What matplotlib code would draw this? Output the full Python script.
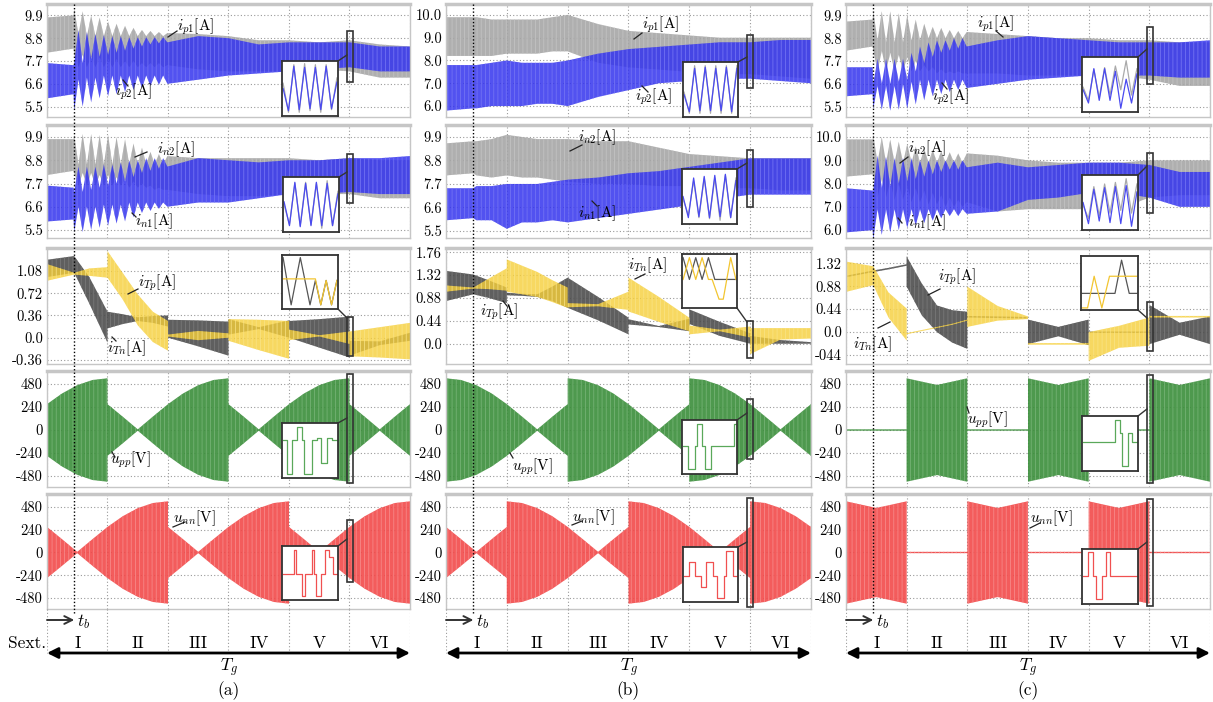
import numpy as np
import matplotlib
matplotlib.use('Agg')
import matplotlib.pyplot as plt
from matplotlib.lines import Line2D
from matplotlib.patches import Rectangle

plt.rcParams['font.family'] = ['cmr10', 'DejaVu Serif']
plt.rcParams['mathtext.fontset'] = 'cm'
plt.rcParams['axes.unicode_minus'] = False
plt.rcParams['axes.formatter.use_mathtext'] = True
plt.rcParams['hatch.linewidth'] = 0.6

W, H = 1213, 702

# ---------------- data (sextant units on x) ----------------
TB = 0.45
SEXT = ['I', 'II', 'III', 'IV', 'V', 'VI']

# arm currents, envelopes of the switching band
# (a) and (c): dense points after t_b to follow the transient swings
X_TR = [0, 0.44, 0.45, 0.52, 0.59, 0.66, 0.73, 0.80, 0.87, 0.94, 1.01, 1.08, 1.15, 1.22,
        1.29, 1.36, 1.43, 1.50, 1.57, 1.64, 1.71, 1.78, 1.85, 1.92, 1.99,
        2.5, 3, 3.5, 4, 4.5, 5, 5.5, 6]
A_IP1_HI = [9.8, 9.9, 10.2, 9.0, 10.1, 8.9, 9.9, 8.9, 9.8, 8.9, 9.6, 8.9, 9.5, 8.9, 9.4, 8.9,
            9.3, 8.9, 9.2, 8.9, 9.15, 8.9, 9.1, 8.9, 9.05, 9.0, 8.9, 8.7, 8.7, 8.6, 8.7, 8.5, 8.4]
A_IP1_LO = [8.1, 8.3, 8.0, 7.4, 8.0, 7.4, 7.9, 7.4, 7.9, 7.4, 7.8, 7.4, 7.8, 7.4, 7.7, 7.4,
            7.7, 7.4, 7.6, 7.4, 7.6, 7.4, 7.6, 7.4, 7.5, 7.3, 7.2, 7.2, 7.2, 7.3, 7.2, 6.9, 6.9]
A_IP2_HI = [7.6, 7.5, 7.6, 9.2, 7.6, 9.1, 7.8, 9.0, 7.9, 8.95, 8.0, 8.9, 8.1, 8.9, 8.2, 8.85,
            8.3, 8.85, 8.4, 8.85, 8.5, 8.85, 8.55, 8.85, 8.6, 8.9, 8.8, 8.5, 8.6, 8.6, 8.6, 8.4, 8.4]
A_IP2_LO = [5.9, 6.1, 5.3, 6.8, 5.5, 6.9, 5.7, 6.9, 5.9, 7.0, 6.0, 7.0, 6.1, 7.0, 6.2, 7.0,
            6.3, 7.0, 6.4, 7.0, 6.5, 7.0, 6.55, 7.0, 6.6, 6.8, 7.0, 7.1, 7.2, 7.3, 7.4, 7.2, 7.2]
A_IN2_HI = [9.8, 9.8, 10.0, 8.6, 10.05, 8.6, 10.05, 8.6, 10.0, 8.6, 10.0, 8.6, 9.9, 8.6, 9.8, 8.6,
            9.6, 8.6, 9.4, 8.6, 9.2, 8.6, 9.1, 8.6, 9.0, 8.9, 8.9, 8.9, 8.9, 8.8, 8.9, 8.8, 8.8]
A_IN2_LO = [8.1, 8.3, 8.2, 7.6, 8.2, 7.6, 8.2, 7.6, 8.1, 7.6, 8.1, 7.6, 8.0, 7.6, 7.9, 7.5,
            7.8, 7.5, 7.7, 7.5, 7.6, 7.4, 7.5, 7.4, 7.4, 7.2, 7.1, 7.1, 7.2, 7.2, 7.2, 7.0, 7.0]
A_IN1_HI = [7.6, 7.5, 7.3, 8.5, 7.3, 8.5, 7.4, 8.5, 7.5, 8.6, 7.6, 8.6, 7.7, 8.7, 7.8, 8.8,
            8.0, 8.8, 8.2, 8.9, 8.3, 8.9, 8.4, 8.9, 8.5, 8.9, 8.8, 8.7, 8.8, 8.8, 8.9, 8.9, 9.0]
A_IN1_LO = [5.9, 6.0, 5.4, 6.6, 5.4, 6.6, 5.5, 6.6, 5.6, 6.7, 5.7, 6.7, 5.8, 6.7, 5.9, 6.8,
            6.1, 6.8, 6.3, 6.8, 6.4, 6.8, 6.5, 6.8, 6.6, 6.8, 6.8, 7.0, 7.2, 7.2, 7.3, 7.2, 7.2]

C_IP1_HI = [9.6, 9.7, 10.1, 8.7, 10.1, 8.6, 10.1, 8.6, 10.0, 8.6, 9.9, 8.7, 9.7, 8.7, 9.5, 8.8,
            9.35, 8.8, 9.3, 8.8, 9.2, 8.8, 9.15, 8.8, 9.1, 9.0, 8.9, 8.8, 8.8, 8.7, 8.7, 8.6, 8.6]
C_IP1_LO = [8.2, 8.4, 8.2, 7.2, 8.2, 7.2, 8.1, 7.2, 8.0, 7.2, 7.9, 7.2, 7.7, 7.2, 7.5, 7.2,
            7.4, 7.1, 7.3, 7.1, 7.2, 7.1, 7.2, 7.1, 7.1, 7.1, 7.0, 7.0, 7.0, 7.0, 6.8, 6.5, 6.5]
C_IP2_HI = [7.4, 7.4, 6.6, 7.8, 6.6, 7.8, 6.6, 7.8, 6.7, 7.8, 6.8, 8.1, 7.2, 8.4, 7.6, 8.6,
            7.9, 8.7, 8.1, 8.7, 8.2, 8.8, 8.3, 8.8, 8.4, 8.7, 8.9, 8.8, 8.7, 8.6, 8.6, 8.6, 8.7]
C_IP2_LO = [6.0, 6.1, 5.4, 6.5, 5.35, 6.5, 5.3, 6.5, 5.35, 6.6, 5.4, 6.7, 5.6, 6.8, 5.8, 6.8,
            6.0, 6.8, 6.1, 6.8, 6.2, 6.8, 6.3, 6.8, 6.4, 6.6, 6.8, 6.9, 7.0, 7.0, 7.0, 6.9, 6.9]
C_IN2_HI = [9.9, 9.9, 10.1, 8.9, 10.0, 8.9, 9.9, 8.9, 9.8, 8.9, 9.7, 8.9, 9.6, 8.9, 9.5, 8.9,
            9.45, 8.9, 9.4, 8.9, 9.35, 8.9, 9.3, 8.9, 9.3, 9.2, 9.0, 8.9, 8.9, 8.9, 9.0, 9.0, 9.0]
C_IN2_LO = [8.3, 8.4, 8.3, 7.4, 8.2, 7.4, 8.1, 7.3, 8.0, 7.3, 7.9, 7.2, 7.8, 7.2, 7.7, 7.1,
            7.6, 7.1, 7.5, 7.0, 7.4, 7.0, 7.3, 7.0, 7.2, 6.8, 6.9, 6.9, 6.9, 6.9, 7.4, 7.5, 7.5]
C_IN1_HI = [7.8, 7.7, 7.7, 9.2, 7.8, 9.15, 7.9, 9.1, 8.0, 9.1, 8.1, 9.1, 8.2, 9.0, 8.3, 9.0,
            8.4, 9.0, 8.5, 9.0, 8.6, 9.0, 8.6, 9.0, 8.7, 8.9, 8.7, 8.8, 8.9, 8.9, 8.8, 8.5, 8.5]
C_IN1_LO = [5.9, 6.0, 5.6, 6.9, 5.8, 6.9, 5.9, 6.9, 6.0, 6.9, 6.1, 6.9, 6.2, 6.9, 6.3, 6.9,
            6.4, 6.9, 6.5, 6.9, 6.6, 6.9, 6.6, 6.9, 6.7, 6.8, 7.3, 7.4, 7.6, 7.6, 7.4, 7.0, 7.0]

# (b): slow drift only
X_CUR = [0, 0.45, 0.5, 0.75, 1, 1.25, 1.5, 1.75, 2, 2.5, 3, 3.5, 4, 4.5, 5, 5.5, 6]
B_IP1_LO = [8.2, 8.2, 8.2, 8.2, 8.3, 8.3, 8.3, 8.4, 8.4, 7.9, 7.7, 7.6, 7.5, 7.4, 7.4, 7.3, 7.2]
B_IP1_HI = [9.9, 9.9, 9.9, 9.8, 9.8, 9.8, 9.8, 9.9, 10.0, 9.6, 9.3, 9.2, 9.1, 9.0, 9.0, 9.0, 9.0]
B_IP2_LO = [5.8, 5.9, 5.9, 6.0, 6.0, 6.0, 6.1, 6.1, 6.0, 6.4, 6.7, 7.0, 7.1, 7.2, 7.2, 7.1, 7.0]
B_IP2_HI = [7.8, 7.8, 7.8, 7.9, 8.0, 7.9, 7.9, 7.9, 8.0, 8.3, 8.5, 8.6, 8.7, 8.8, 8.8, 8.9, 8.9]
B_IN2_LO = [8.1, 8.2, 8.1, 8.0, 8.1, 8.0, 8.0, 7.9, 7.8, 7.7, 7.7, 7.6, 7.6, 7.5, 7.5, 7.4, 7.4]
B_IN2_HI = [9.6, 9.7, 9.7, 9.8, 10.0, 9.9, 9.8, 9.8, 9.8, 9.7, 9.7, 9.4, 9.1, 9.0, 8.9, 8.9, 8.9]
B_IN1_LO = [6.0, 6.1, 6.0, 6.0, 5.6, 5.9, 5.9, 6.0, 5.9, 6.1, 6.3, 6.5, 6.7, 7.0, 7.2, 7.2, 7.2]
B_IN1_HI = [7.5, 7.5, 7.6, 7.6, 7.7, 7.7, 7.7, 7.8, 7.9, 8.0, 8.2, 8.3, 8.5, 8.7, 8.9, 8.9, 8.9]

# transformer currents (repeated x = jump at sextant change)
X_T = [0, 0.45, 0.45, 0.7, 1, 1, 1.25, 1.5, 1.75, 2, 2, 2.5, 3, 3, 3.5, 4, 4, 4.5, 5, 5, 5.5, 6]
A_DARK_LO = [0.98, 1.05, 1.05, 0.55, -0.08, 0.15, 0.22, 0.27, 0.24, 0.18, 0.0, -0.14, -0.29,
             0.05, 0.14, 0.0, 0.0, -0.16, -0.32, -0.29, -0.12, -0.05]
A_DARK_HI = [1.26, 1.32, 1.32, 0.98, 0.42, 0.42, 0.38, 0.33, 0.35, 0.36, 0.29, 0.28, 0.26,
             0.3, 0.17, 0.28, 0.27, 0.3, 0.34, -0.05, -0.06, 0.08]
A_GOLD_LO = [0.92, 1.02, 1.02, 1.0, 0.97, 0.97, 0.62, 0.2, -0.07, -0.21, 0.02, -0.04, 0.0,
             -0.05, -0.2, -0.34, -0.04, 0.02, -0.1, -0.3, -0.32, -0.35]
A_GOLD_HI = [1.19, 1.05, 1.05, 1.12, 1.14, 1.40, 1.05, 0.7, 0.42, 0.27, 0.05, 0.11, 0.07,
             0.3, 0.29, 0.27, 0.13, 0.04, 0.1, 0.1, 0.17, 0.24]
B_DARK_LO = [0.82, 0.95, 0.95, 0.88, 0.78, 0.93, 0.92, 0.90, 0.82, 0.69, 0.69, 0.45, 0.18,
             0.37, 0.32, 0.24, 0.38, 0.15, 0.0, 0.0, 0.0, 0.0]
B_DARK_HI = [1.40, 1.33, 1.33, 1.22, 1.08, 0.98, 0.96, 0.95, 1.1, 1.27, 1.27, 0.9, 0.5,
             0.47, 0.34, 0.48, 0.66, 0.42, 0.2, 0.15, 0.07, 0.03]
B_GOLD_LO = [1.0, 1.06, 1.06, 1.05, 1.02, 1.0, 0.95, 0.9, 0.8, 0.69, 0.70, 0.72, 0.65,
             0.62, 0.42, 0.24, 0.18, 0.24, 0.12, -0.2, 0.08, 0.1]
B_GOLD_HI = [1.12, 1.08, 1.08, 1.25, 1.45, 1.62, 1.5, 1.38, 1.22, 1.08, 0.78, 0.76, 1.0,
             1.27, 0.9, 0.5, 0.35, 0.27, 0.33, 0.3, 0.3, 0.3]
C_DARK_LO = [1.05, 1.15, 1.15, 1.2, 1.27, 0.87, 0.32, 0.0, -0.2, -0.32, 0.28, 0.27, 0.26,
             -0.23, -0.08, -0.25, -0.01, -0.01, -0.01, -0.23, -0.05, -0.23]
C_DARK_HI = [1.08, 1.18, 1.18, 1.23, 1.30, 1.45, 0.93, 0.51, 0.42, 0.39, 0.31, 0.30, 0.29,
             0.24, 0.1, 0.24, 0.01, 0.01, 0.01, 0.52, 0.18, 0.3]
C_GOLD_LO = [0.77, 0.9, 0.9, 0.28, -0.16, -0.04, 0.02, 0.08, 0.14, 0.22, 0.1, 0.22, 0.25,
             -0.24, -0.24, -0.24, -0.55, -0.3, -0.26, 0.28, 0.28, 0.28]
C_GOLD_HI = [1.35, 1.26, 1.26, 0.76, 0.45, -0.02, 0.04, 0.10, 0.16, 0.24, 0.87, 0.5, 0.3,
             -0.21, -0.21, -0.21, 0.0, 0.12, 0.28, 0.31, 0.31, 0.31]

# arm voltages, amplitude of the PWM band [V]
X_V = [0, .25, .5, .75, 1, 1, 1.25, 1.5, 1.75, 2, 2, 2.25, 2.5, 2.75, 3,
       3, 3.25, 3.5, 3.75, 4, 4, 4.25, 4.5, 4.75, 5, 5, 5.25, 5.5, 5.75, 6]
A_UPP = [270, 382, 468, 522, 540, 270, 140, 0, 140, 270, 270, 382, 468, 522, 540,
         270, 140, 0, 140, 270, 270, 382, 468, 522, 540, 270, 140, 0, 140, 270]
A_UNN = [270, 140, 0, 140, 270, 270, 382, 468, 522, 540, 270, 140, 0, 140, 270,
         270, 382, 468, 522, 540, 270, 140, 0, 140, 270, 270, 382, 468, 522, 540]
B_UPP = [540, 522, 468, 382, 270, 270, 140, 0, 140, 270, 540, 522, 468, 382, 270,
         270, 140, 0, 140, 270, 540, 522, 468, 382, 270, 270, 140, 0, 140, 270]
B_UNN = [270, 140, 0, 140, 270, 540, 522, 468, 382, 270, 270, 140, 0, 140, 270,
         540, 522, 468, 382, 270, 270, 140, 0, 140, 270, 540, 522, 468, 382, 270]
C_UPP = [0, 0, 0, 0, 0, 540, 505, 470, 505, 540, 0, 0, 0, 0, 0,
         540, 505, 470, 505, 540, 0, 0, 0, 0, 0, 540, 505, 470, 505, 540]
C_UNN = [540, 505, 470, 505, 540, 0, 0, 0, 0, 0, 540, 505, 470, 505, 540,
         0, 0, 0, 0, 0, 540, 505, 470, 505, 540, 0, 0, 0, 0, 0]

# zoomed insets (normalised time / value)
TRI_T = [0, .1, .2, .3, .4, .5, .6, .7, .8, .9, 1.0]
INS_A1 = ([.6, .05, .95, .05, .97, .08, .95, .05, .95, .1, .7], [.5, .08, .92, .1, .9, .12, .9, .1, .92, .12, .62])
INS_A2 = ([.5, .12, .9, .1, .92, .12, .9, .05, .95, .1, .75], [.55, .1, .92, .08, .9, .1, .92, .1, .9, .1, .7])
INS_B1 = ([.45, .05, .95, .05, .95, .05, .95, .05, .95, .05, .95], [.4, .08, .9, .1, .92, .1, .9, .1, .92, .08, .9])
INS_B2 = ([.45, .15, .8, .1, .85, .08, .85, .05, .9, .1, .85], [.5, .1, .85, .12, .88, .1, .9, .12, .92, .1, .8])
INS_C1 = ([.45, .2, .78, .25, .82, .3, .85, .4, .95, .3, .8], [.4, .15, .8, .2, .8, .2, .75, .05, .6, .15, .7])
INS_C2 = ([.45, .2, .8, .25, .85, .3, .88, .35, .95, .3, .85], [.5, .1, .75, .15, .78, .12, .8, .1, .82, .05, .7])

INS_A3_DARK = ([0, .15, .32, .5, .6, .7, .8, .9, 1.0], [.97, .06, .97, .06, .53, .06, .53, .06, .53])
INS_A3_GOLD = ([0, .6, .7, .8, .9, 1.0], [.56, .56, .06, .53, .06, .53])
INS_B3_DARK = ([0, .12, .24, .36, .48, .6, 1.0], [.95, .53, .95, .53, .95, .53, .53])
INS_B3_GOLD = ([0, .12, .24, .36, .48, .55, .68, .76, .9, 1.0], [.53, .95, .53, .95, .53, .53, .15, .15, .95, .53])
INS_C3_DARK = ([0, .6, .72, .86, 1.0], [.3, .3, .94, .3, .3])
INS_C3_GOLD = ([0, .1, .22, .36, .5, 1.0], [.02, .02, .63, .02, .63, .63])

INS_A4 = ([0, .08, .17, .26, .35, .39, .53, .63, .7, .82, .9, 1.0], [.7, .06, .7, .94, .7, .06, .7, .73, .27, .73, .7, .7])
INS_A5 = ([0, .2, .24, .36, .4, .53, .57, .62, .7, .77, .85, .92, 1.0], [.49, .95, .49, .06, .49, .95, .49, .06, .49, .95, .8, .49, .49])
INS_B4 = ([0, .1, .22, .27, .36, .42, .52, .97, 1.0], [.51, .08, .51, .95, .51, .08, .51, .95, .95])
INS_B5 = ([0, .1, .2, .32, .42, .55, .62, .75, .8, .92, 1.0], [.48, .73, .48, .27, .73, .48, .06, .48, .94, .48, .48])
INS_C4 = ([0, .6, .68, .73, .84, .9, 1.0], [.52, .94, .7, .07, .7, .52, .52])
INS_C5 = ([0, .1, .18, .24, .36, .42, .5, 1.0], [.51, .96, .51, .07, .51, .96, .51, .51])

# ---------------- layout (pixels) ----------------
COL_L = [47, 446, 846]
COL_R = [410, 811, 1210]
ROW_T = [4, 125, 248, 371, 494]
ROW_B = [117, 238, 364, 487, 609]

# face colour, stripe colour
GRAY = ('#a6a6a6', '#c4c4c4')
BLUE = ('#3434ee', '#7878f4')
DARK = ('#4d4d4d', '#7a7a7a')
GOLD = ('#f6cf3a', '#fae58a')
GREEN = ('#3b8e3b', '#78b478')
RED = ('#f24a4a', '#f78c8c')
FRAME = '#c6c6c6'

TK_P = ([5.5, 6.6, 7.7, 8.8, 9.9], ['5.5', '6.6', '7.7', '8.8', '9.9'])
TK_10 = ([6.0, 7.0, 8.0, 9.0, 10.0], ['6.0', '7.0', '8.0', '9.0', '10.0'])
TK_V = ([-480, -240, 0, 240, 480], ['-480', '-240', '0', '240', '480'])
TK_A3 = ([-0.36, 0.0, 0.36, 0.72, 1.08], ['-0.36', '0.0', '0.36', '0.72', '1.08'])
TK_B3 = ([0.0, 0.44, 0.88, 1.32, 1.76], ['0.0', '0.44', '0.88', '1.32', '1.76'])
TK_C3 = ([-0.44, 0.0, 0.44, 0.88, 1.32], ['-044', '0.0', '0.44', '0.88', '1.32'])

PANELS = [
    [(TK_P, (5.0, 10.45)), (TK_P, (5.12, 10.47)), (TK_A3, (-0.425, 1.45)), (TK_V, (-595, 616)), (TK_V, (-596, 617))],
    [(TK_10, (5.52, 10.48)), (TK_P, (5.17, 10.46)), (TK_B3, (-0.39, 1.84)), (TK_V, (-595, 616)), (TK_V, (-596, 617))],
    [(TK_P, (5.0, 10.45)), (TK_10, (5.66, 10.52)), (TK_C3, (-0.61, 1.61)), (TK_V, (-595, 616)), (TK_V, (-596, 617))],
]
CURRENTS = [
    [(X_TR, A_IP1_LO, A_IP1_HI, A_IP2_LO, A_IP2_HI), (X_TR, A_IN2_LO, A_IN2_HI, A_IN1_LO, A_IN1_HI)],
    [(X_CUR, B_IP1_LO, B_IP1_HI, B_IP2_LO, B_IP2_HI), (X_CUR, B_IN2_LO, B_IN2_HI, B_IN1_LO, B_IN1_HI)],
    [(X_TR, C_IP1_LO, C_IP1_HI, C_IP2_LO, C_IP2_HI), (X_TR, C_IN2_LO, C_IN2_HI, C_IN1_LO, C_IN1_HI)],
]
TRAFO = [(A_DARK_LO, A_DARK_HI, A_GOLD_LO, A_GOLD_HI),
         (B_DARK_LO, B_DARK_HI, B_GOLD_LO, B_GOLD_HI),
         (C_DARK_LO, C_DARK_HI, C_GOLD_LO, C_GOLD_HI)]
VOLTS = [(A_UPP, A_UNN), (B_UPP, B_UNN), (C_UPP, C_UNN)]
INS_TRI = [[INS_A1, INS_A2], [INS_B1, INS_B2], [INS_C1, INS_C2]]
INS_T3 = [(INS_A3_DARK, INS_A3_GOLD), (INS_B3_DARK, INS_B3_GOLD), (INS_C3_DARK, INS_C3_GOLD)]
INS_PWM = [(INS_A4, INS_A5), (INS_B4, INS_B5), (INS_C4, INS_C5)]

INSET_BOX = [
    [(282, 61, 338, 116), (283, 177, 339, 232), (282, 255, 338, 309), (282, 423, 338, 478), (282, 546, 338, 600)],
    [(683, 62, 738, 117), (682, 169, 737, 224), (682, 254, 737, 308), (682, 420, 737, 474), (683, 547, 738, 602)],
    [(1082, 57, 1138, 112), (1082, 175, 1138, 230), (1081, 256, 1138, 310), (1082, 416, 1138, 471), (1082, 549, 1138, 604)],
]
ZOOM_BOX = [
    [(347, 31, 353, 82), (347, 154, 353, 203), (347, 317, 353, 356), (347, 374, 353, 483), (347, 520, 353, 582)],
    [(747, 35, 753, 88), (747, 150, 753, 207), (747, 321, 753, 358), (747, 399, 753, 459), (747, 498, 753, 607)],
    [(1147, 27, 1153, 84), (1147, 153, 1153, 213), (1147, 302, 1153, 351), (1147, 375, 1153, 483), (1147, 499, 1153, 606)],
]
LINK_Y = [[55, 172, 318, 418, 539], [57, 163, 322, 413, 542], [49, 166, 318, 409, 542]]

LABELS = [
    [(r'$i_{p1}$[A]', 177, 27, 168, 37, 177, 31), (r'$i_{p2}$[A]', 115, 92, 123, 80, 128, 86),
     (r'$i_{n2}$[A]', 157, 149, 135, 157, 147, 152), (r'$i_{n1}$[A]', 135, 221, 132, 213, 136, 217),
     (r'$i_{Tp}$[A]', 138, 283, 128, 294, 138, 289), (r'$i_{Tn}$[A]', 107, 348, 112, 337, 116, 341),
     (r'$u_{pp}$[V]', 110, 460, 112, 452, 115, 457), (r'$u_{nn}$[V]', 173, 518, 173, 527, 185, 522)],
    [(r'$i_{p1}$[A]', 642, 25, 634, 39, 642, 33), (r'$i_{p2}$[A]', 635, 97, 642, 86, 648, 92),
     (r'$i_{n2}$[A]', 578, 137, 570, 151, 582, 145), (r'$i_{n1}$[A]', 578, 213, 592, 201, 597, 206),
     (r'$i_{Tn}$[A]', 628, 265, 635, 279, 645, 274), (r'$i_{Tp}$[A]', 480, 312, 503, 301, 507, 306),
     (r'$u_{pp}$[V]', 512, 467, 510, 453, 513, 458), (r'$u_{nn}$[V]', 572, 517, 572, 525, 582, 521)],
    [(r'$i_{p1}$[A]', 977, 24, 1003, 37, 996, 31), (r'$i_{p2}$[A]', 932, 97, 942, 83, 947, 89),
     (r'$i_{n2}$[A]', 908, 148, 900, 163, 908, 157), (r'$i_{n1}$[A]', 908, 222, 898, 218, 902, 223),
     (r'$i_{Tp}$[A]', 938, 277, 928, 295, 940, 289), (r'$i_{Tn}$[A]', 853, 344, 878, 328, 890, 322),
     (r'$u_{pp}$[V]', 967, 420, 967, 407, 969, 413), (r'$u_{nn}$[V]', 1030, 518, 1030, 528, 1040, 523)],
]

fig = plt.figure(figsize=(W / 100, H / 100), dpi=100)


def px_axes(l, t, r, b):
    return fig.add_axes([l / W, 1 - b / H, (r - l) / W, (b - t) / H])


def fig_line(x1, y1, x2, y2, **kw):
    fig.add_artist(Line2D([x1 / W, x2 / W], [1 - y1 / H, 1 - y2 / H],
                          transform=fig.transFigure, **kw))


def band(ax, x, lo, hi, colors, alpha):
    # switching band: solid face with fine lighter vertical stripes
    ax.fill_between(x, lo, hi, facecolor=colors[0], edgecolor=colors[1],
                    hatch='||||', lw=0, alpha=alpha)


def inset(box, traces):
    iax = px_axes(*box)
    iax.set_xlim(-0.02, 1.02)
    iax.set_ylim(-0.02, 1.02)
    iax.set_xticks([])
    iax.set_yticks([])
    for s in iax.spines.values():
        s.set_color('#333333')
        s.set_linewidth(1.3)
    for t, v, col, step in traces:
        iax.plot(t, v, color=col, lw=0.9, drawstyle='steps-post' if step else 'default')


for c in range(3):
    L, R = COL_L[c], COL_R[c]
    for r in range(5):
        ax = px_axes(L, ROW_T[r], R, ROW_B[r])
        (ticks, labs), ylim = PANELS[c][r]
        ax.set_xlim(0, 6)
        ax.set_ylim(*ylim)
        ax.set_xticks(range(7))
        ax.set_xticklabels([])
        ax.set_yticks(ticks)
        ax.set_yticklabels(labs)
        ax.tick_params(length=0, labelsize=10.5, pad=3)
        ax.grid(True, ls=(0, (1, 2)), color='#9a9a9a', lw=0.8)
        ax.set_axisbelow(True)
        for s in ax.spines.values():
            s.set_color(FRAME)
            s.set_linewidth(1)
        ax.spines['top'].set_linewidth(2.5)

        if r < 2:
            xs, g_lo, g_hi, b_lo, b_hi = CURRENTS[c][r]
            band(ax, xs, g_lo, g_hi, GRAY, 0.9)
            band(ax, xs, b_lo, b_hi, BLUE, 0.85)
            gt, bt = INS_TRI[c][r]
            inset(INSET_BOX[c][r], [(TRI_T, gt, '#aaaaaa', False), (TRI_T, bt, '#4a4af0', False)])
        elif r == 2:
            d_lo, d_hi, y_lo, y_hi = TRAFO[c]
            band(ax, X_T, d_lo, d_hi, DARK, 0.9)
            band(ax, X_T, y_lo, y_hi, GOLD, 0.8)
            dk, gd = INS_T3[c]
            inset(INSET_BOX[c][r], [(dk[0], dk[1], '#555555', False), (gd[0], gd[1], '#f2c531', False)])
        else:
            amp = np.maximum(np.array(VOLTS[c][r - 3], float), 7)
            band(ax, X_V, -amp, amp, GREEN if r == 3 else RED, 0.9)
            pw = INS_PWM[c][r - 3]
            inset(INSET_BOX[c][r], [(pw[0], pw[1], '#5aa85a' if r == 3 else '#f05050', True)])

        # zoom window and its link to the inset
        zl, zt, zr, zb = ZOOM_BOX[c][r]
        fig.add_artist(Rectangle((zl / W, 1 - zb / H), (zr - zl) / W, (zb - zt) / H,
                                 transform=fig.transFigure, fill=False, ec='#333333', lw=1.2))
        il, it, ir, ib = INSET_BOX[c][r]
        fig_line(ir, ib if r == 2 else it, zl, LINK_Y[c][r], color='#333333', lw=1)

    # overlay for t_b marker and the sextant scale
    ov = fig.add_axes([L / W, 0, (R - L) / W, 1])
    ov.set_xlim(0, 6)
    ov.set_ylim(H, 0)
    ov.set_axis_off()
    ov.set_zorder(10)
    ov.patch.set_alpha(0)
    ov.vlines(range(7), ROW_B[4], 653, colors='#9a9a9a', linestyles=(0, (1, 2)), lw=0.8)
    ov.vlines(TB, ROW_T[0], 613, colors='black', linestyles=(0, (1, 1.5)), lw=1)
    ov.annotate('', xy=(TB, 620), xytext=(0, 620),
                arrowprops=dict(arrowstyle='->', color='#333333', lw=1.4,
                                mutation_scale=14, shrinkA=0, shrinkB=0))
    ov.text(TB + 0.05, 622, '$t_b$', fontsize=12.5, ha='left', va='center')
    for k in range(6):
        ov.text(k + 0.5, 643, SEXT[k], fontsize=12.5, ha='center', va='center')
    if c == 0:
        ov.text(-0.01, 643, 'Sext.', fontsize=12.5, ha='right', va='center')
    ov.annotate('', xy=(6, 653), xytext=(0, 653),
                arrowprops=dict(arrowstyle='<|-|>', color='black', lw=2,
                                mutation_scale=16, shrinkA=0, shrinkB=0))
    ov.text(3, 668, '$T_g$', fontsize=12.5, ha='center', va='center')
    ov.text(3, 691, '(%s)' % 'abc'[c], fontsize=12.5, ha='center', va='center')

    for s, tx, ty, x1, y1, x2, y2 in LABELS[c]:
        fig.text(tx / W, 1 - ty / H, s, fontsize=11, ha='left', va='center')
        fig_line(x1, y1, x2, y2, color='#222222', lw=0.9)

fig.savefig('out.png', dpi=100)
